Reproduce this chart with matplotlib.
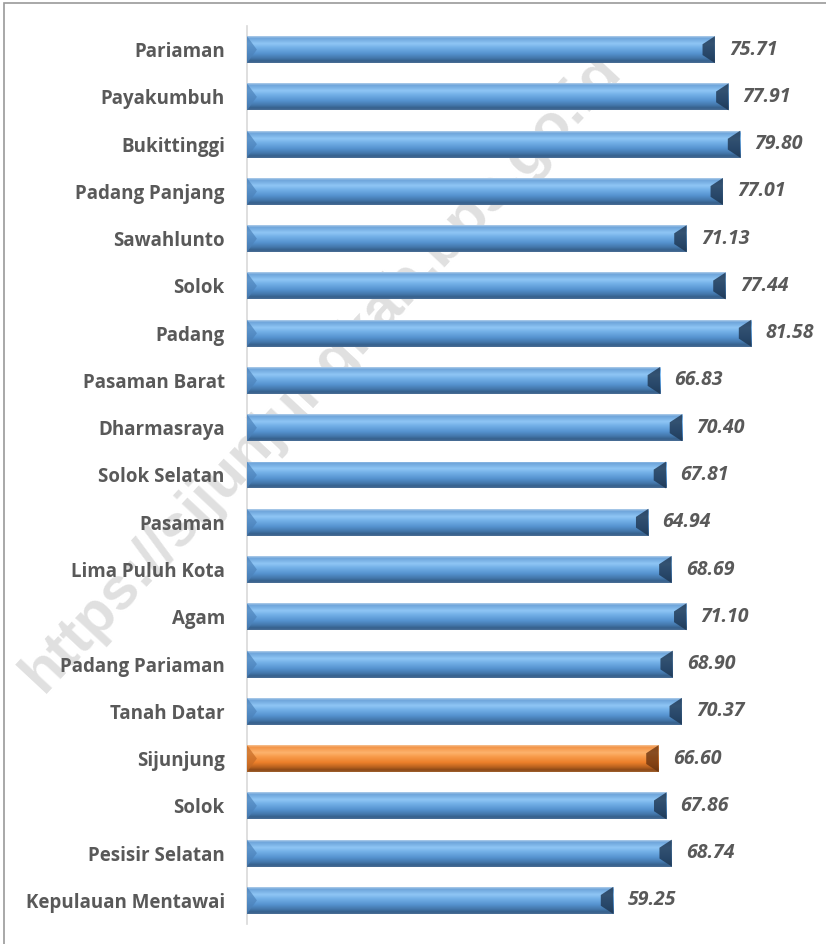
import numpy as np
import matplotlib
matplotlib.use("Agg")
import matplotlib.pyplot as plt
from matplotlib.colors import LinearSegmentedColormap
from matplotlib.patches import Polygon, Rectangle

regions = ["Pariaman", "Payakumbuh", "Bukittinggi", "Padang Panjang", "Sawahlunto",
           "Solok", "Padang", "Pasaman Barat", "Dharmasraya", "Solok Selatan",
           "Pasaman", "Lima Puluh Kota", "Agam", "Padang Pariaman", "Tanah Datar",
           "Sijunjung", "Solok", "Pesisir Selatan", "Kepulauan Mentawai"]
values = [75.71, 77.91, 79.80, 77.01, 71.13,
          77.44, 81.58, 66.83, 70.40, 67.81,
          64.94, 68.69, 71.10, 68.90, 70.37,
          66.60, 67.86, 68.74, 59.25]
highlight = "Sijunjung"

W, H = 826, 944
fig = plt.figure(figsize=(W / 100, H / 100), dpi=100)
fig.patch.set_facecolor("white")

xmax = 90
left_px, top_px, bottom_px = 247, 26, 924
px_per_unit = 6.18
ax = fig.add_axes([left_px / W, 1 - bottom_px / H,
                   xmax * px_per_unit / W, (bottom_px - top_px) / H])
ax.set_xlim(0, xmax)
n = len(values)
ax.set_ylim(n - 0.5, -0.5)
ax.patch.set_alpha(0)

# frame border
fig.patches.append(Rectangle((4 / W, -0.1), 1.2, 1 - 3 / H + 0.1,
                             transform=fig.transFigure, fill=False,
                             edgecolor="#9a9a9a", linewidth=1.2))

# watermark (behind everything in the axes)
ax.text(322 / W, 1 - 372 / H, "https://sijunjungkab.bps.go.id",
        rotation=47, ha="center", va="center", fontsize=43,
        fontweight="bold", family="Liberation Sans", color="#e0e0e0",
        transform=fig.transFigure, zorder=0.1, clip_on=False)

blue_cmap = LinearSegmentedColormap.from_list("b", [
    (0.0, "#b4cfea"), (0.08, "#6da4da"), (0.28, "#8fc6f5"), (0.42, "#74b1e8"),
    (0.65, "#5592cf"), (0.82, "#4477ab"), (0.92, "#36608c"), (1.0, "#4b6f96")])
orange_cmap = LinearSegmentedColormap.from_list("o", [
    (0.0, "#f5c498"), (0.08, "#f39447"), (0.28, "#fdb36d"), (0.42, "#f89c4c"),
    (0.65, "#ec7f2a"), (0.82, "#b8611f"), (0.92, "#8c4817"), (1.0, "#a0622f")])

bar_h = 0.57
grad = np.linspace(0, 1, 256).reshape(-1, 1)
bevel = 2.0  # data units

bars = ax.barh(range(n), values, height=bar_h, color="none", edgecolor="none", zorder=2)
for i, (b, v, name) in enumerate(zip(bars, values, regions)):
    is_hl = name == highlight
    cmap = orange_cmap if is_hl else blue_cmap
    y0 = b.get_y()
    y1 = y0 + b.get_height()
    im = ax.imshow(grad, cmap=cmap, aspect="auto", extent=(0, v, y1, y0),
                   origin="upper", zorder=2, interpolation="bilinear")
    im.set_clip_path(b)
    yc = (y0 + y1) / 2
    # right dark bevel
    dark = "#6b3410" if is_hl else "#1d3550"
    ax.add_patch(Polygon([(v, y0), (v - bevel, y0 + 0.3 * (y1 - y0)),
                          (v - bevel, y1 - 0.3 * (y1 - y0)), (v, y1)],
                         closed=True, facecolor=dark, edgecolor="none",
                         alpha=0.8, zorder=3))
    # left bevel
    lcol = "#c56a25" if is_hl else "#4c82ba"
    ax.add_patch(Polygon([(0, y0), (bevel * 0.8, yc), (0, y1)], closed=True,
                         facecolor=lcol, edgecolor="none", alpha=0.7, zorder=3))
    ax.text(v + 2.3, i, f"{v:.2f}", va="center", ha="left", fontsize=14,
            fontweight="bold", fontstyle="italic", color="#595959",
            family="Open Sans", zorder=4)

ax.set_yticks(range(n))
ax.set_yticklabels(regions, fontsize=13.5, fontweight="bold", color="#595959",
                   family="Open Sans")
ax.tick_params(axis="y", length=0, pad=16)
ax.set_xticks([])
for s in ["top", "right", "bottom"]:
    ax.spines[s].set_visible(False)
ax.spines["left"].set_color("#d9d9d9")
ax.spines["left"].set_linewidth(1.2)
ax.spines["left"].set_zorder(1)

fig.savefig("out.png", dpi=100)
